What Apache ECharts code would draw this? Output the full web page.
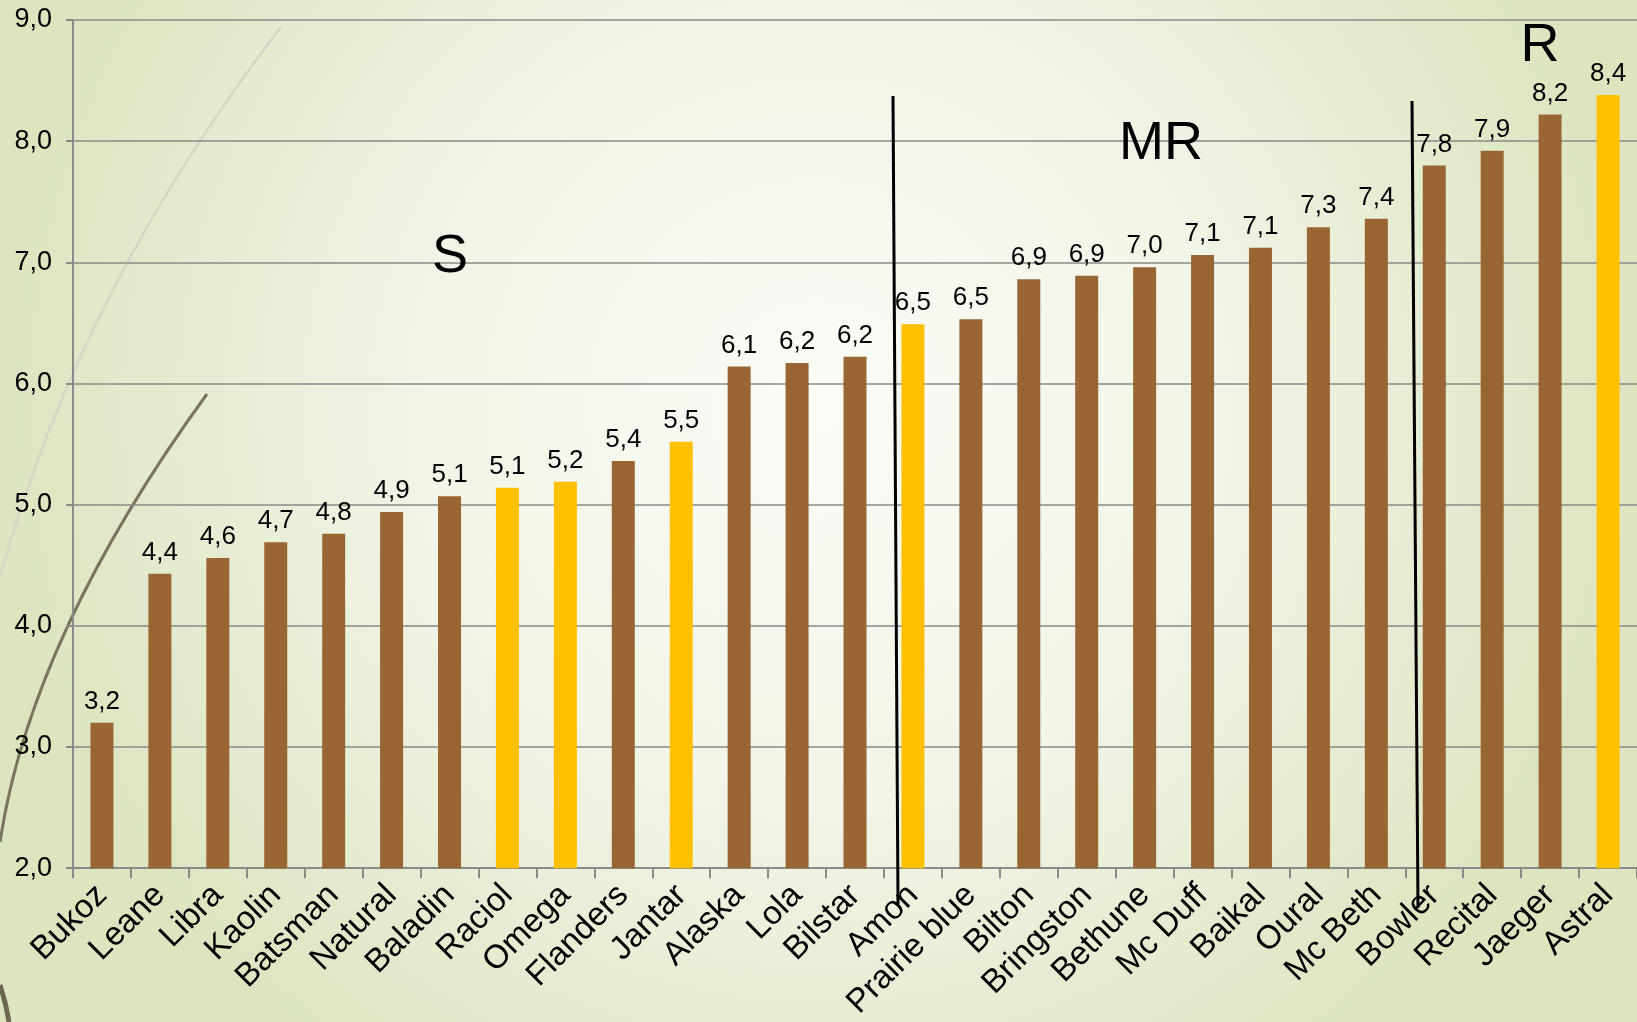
<!DOCTYPE html>
<html>
<head>
<meta charset="utf-8">
<script src="https://cdn.jsdelivr.net/npm/echarts@6/dist/echarts.min.js"></script>
<style>
  html, body { margin: 0; padding: 0; }
  #main { width: 1637px; height: 1022px; }
</style>
</head>
<body>
<div id="main"></div>
<script>
// varieties, sorted by score
var varieties = ['Bukoz', 'Leane', 'Libra', 'Kaolin', 'Batsman', 'Natural', 'Baladin', 'Raciol', 'Omega',
    'Flanders', 'Jantar', 'Alaska', 'Lola', 'Bilstar', 'Amon', 'Prairie blue', 'Bilton', 'Bringston',
    'Bethune', 'Mc Duff', 'Baikal', 'Oural', 'Mc Beth', 'Bowler', 'Recital', 'Jaeger', 'Astral'];
var scores = [3.2, 4.43, 4.56, 4.69, 4.76, 4.94, 5.07, 5.14, 5.19,
    5.36, 5.52, 6.14, 6.17, 6.22, 6.49, 6.53, 6.86, 6.89,
    6.96, 7.06, 7.12, 7.29, 7.36, 7.8, 7.92, 8.22, 8.38];
// bars drawn in yellow
var highlighted = ['Raciol', 'Omega', 'Jantar', 'Amon', 'Astral'];
// group labels
var groupNames = ['S', 'MR', 'R'];
var yTicks = [2, 3, 4, 5, 6, 7, 8, 9];

var BROWN = '#996633';
var YELLOW = '#FFC000';
var FONT = '"Liberation Sans", Arial, sans-serif';

function fmt(v) {
    return v.toFixed(1).replace('.', ',');
}

var barData = [];
for (var i = 0; i < varieties.length; i++) {
    barData.push({
        value: scores[i],
        itemStyle: { color: highlighted.indexOf(varieties[i]) >= 0 ? YELLOW : BROWN }
    });
}

var myChart = echarts.init(document.getElementById('main'));

var option = {
    animation: false,
    backgroundColor: 'transparent',
    grid: { left: 73, right: 0, top: 20, bottom: 153, containLabel: false },
    xAxis: {
        type: 'category',
        data: varieties,
        boundaryGap: true,
        axisLine: { lineStyle: { color: '#8a8a8a', width: 2 } },
        axisTick: { show: true, length: 10, lineStyle: { color: '#8a8a8a', width: 2 } },
        axisLabel: {
            interval: 0,
            rotate: 45,
            margin: 22,
            color: '#000',
            fontSize: 33,
            fontFamily: FONT
        }
    },
    yAxis: {
        type: 'value',
        min: yTicks[0],
        max: yTicks[yTicks.length - 1],
        interval: 1,
        axisLine: { show: true, lineStyle: { color: '#8a8a8a', width: 2 } },
        axisTick: { show: true, length: 7, lineStyle: { color: '#8a8a8a', width: 2 } },
        splitLine: { lineStyle: { color: '#8a8a8a', width: 1.5 } },
        axisLabel: {
            margin: 21,
            color: '#000',
            fontSize: 27,
            fontFamily: FONT,
            formatter: function (v) { return fmt(v); }
        }
    },
    series: [{
        type: 'bar',
        data: barData,
        barWidth: 23,
        z: 3,
        label: {
            show: true,
            position: 'top',
            distance: 8,
            color: '#000',
            fontSize: 26,
            fontFamily: FONT,
            formatter: function (p) { return fmt(p.value); }
        }
    }],
    graphic: [
        {
            type: 'rect', z: -100, silent: true,
            shape: { x: 0, y: 0, width: 1637, height: 1022 },
            style: {
                fill: {
                    type: 'radial', x: 0.5, y: 0.4, r: 0.8,
                    colorStops: [
                        { offset: 0, color: '#fbfcf7' },
                        { offset: 0.5, color: '#f1f4e6' },
                        { offset: 1, color: '#dce5c0' }
                    ]
                }
            }
        },
        // decorative arcs on the left
        {
            type: 'bezierCurve', z: -50, silent: true,
            shape: { x1: 281, y1: 27, cpx1: 80, cpy1: 288, x2: 0, y2: 577 },
            style: { stroke: '#d6d6c8', lineWidth: 2.5, fill: null }
        },
        {
            type: 'bezierCurve', z: -50, silent: true,
            shape: { x1: 207, y1: 394, cpx1: 31, cpy1: 636, x2: 0, y2: 842 },
            style: { stroke: '#7d7360', lineWidth: 3, fill: null }
        },
        {
            type: 'bezierCurve', z: -50, silent: true,
            shape: { x1: 0, y1: 985, cpx1: 6, cpy1: 1003, x2: 9, y2: 1022 },
            style: { stroke: '#6f6552', lineWidth: 5, fill: null }
        },
        // group separators
        {
            type: 'line', z: 10, silent: true,
            shape: { x1: 893, y1: 96, x2: 898, y2: 904 },
            style: { stroke: '#000', lineWidth: 3 }
        },
        {
            type: 'line', z: 10, silent: true,
            shape: { x1: 1412, y1: 101, x2: 1418, y2: 908 },
            style: { stroke: '#000', lineWidth: 3 }
        },
        {
            type: 'text', z: 10, silent: true, x: 450, y: 257,
            style: { text: groupNames[0], fontSize: 54, fontFamily: FONT, fill: '#000', align: 'center', verticalAlign: 'middle' }
        },
        {
            type: 'text', z: 10, silent: true, x: 1161, y: 144,
            style: { text: groupNames[1], fontSize: 54, fontFamily: FONT, fill: '#000', align: 'center', verticalAlign: 'middle' }
        },
        {
            type: 'text', z: 10, silent: true, x: 1540, y: 46,
            style: { text: groupNames[2], fontSize: 54, fontFamily: FONT, fill: '#000', align: 'center', verticalAlign: 'middle' }
        }
    ]
};

myChart.setOption(option);
</script>
</body>
</html>
